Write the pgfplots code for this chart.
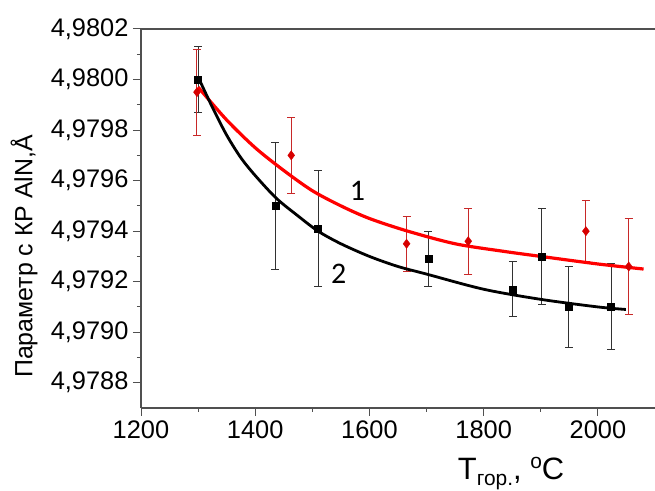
\documentclass[border=0pt]{standalone}
\usepackage{pgfplots}
\pgfplotsset{compat=1.18}
\usepackage{fontspec}
\setmainfont{Liberation Sans}
\newfontfamily\calibri{Carlito}
\definecolor{axgray}{RGB}{80,80,80}
\definecolor{ebred}{RGB}{200,40,40}
\definecolor{ebblack}{RGB}{50,50,50}
\definecolor{ptred}{RGB}{215,0,0}
\begin{document}
\begin{tikzpicture}
\begin{axis}[
  scale only axis,
  width=514bp, height=379bp,
  xmin=1200, xmax=2100,
  ymin=4.9787, ymax=4.9802,
  axis y line*=left,
  xtick pos=bottom, ytick pos=left,
  xtick={1200,1400,1600,1800,2000},
  ytick={4.9788,4.9790,4.9792,4.9794,4.9796,4.9798,4.9800,4.9802},
  yticklabels={{4,9788},{4,9790},{4,9792},{4,9794},{4,9796},{4,9798},{4,9800},{4,9802}},
  minor x tick num=1, minor y tick num=1,
  tick align=outside,
  major tick length=8bp, minor tick length=4bp,
  every tick/.style={line width=1bp, color=axgray},
  axis line style={line width=1.2bp, color=axgray},
  /pgf/number format/assume math mode=true,
  /pgf/number format/1000 sep={},
  tick label style={font=\fontsize{25.5}{29}\selectfont},
  xticklabel style={yshift=-1bp},
  yticklabel style={xshift=-1bp},
  ylabel={Параметр с КР AlN,Å},
  ylabel style={at={(rel axis cs:0,0.40)}, anchor=center, yshift=117bp, font=\fontsize{25}{29}\selectfont},
  xlabel={T\raisebox{-6bp}{\fontsize{21}{23}\selectfont гор.}, \raisebox{11bp}{\fontsize{21}{23}\selectfont o}C},
  xlabel style={at={(rel axis cs:0.72,0)}, anchor=base, yshift=-71bp, font=\fontsize{31}{35}\selectfont},
  clip=false,
]
\coordinate (bl) at (rel axis cs:0,0);
\coordinate (tr) at (rel axis cs:1,1);
% series 2 (black squares)
\addplot[only marks, mark=square*, mark size=3.5bp, color=black,
  error bars/.cd, y dir=both, y explicit,
  error bar style={line width=1bp, color=ebblack},
  error mark options={rotate=90, mark size=4bp, line width=1bp, color=ebblack}]
coordinates {
  (1300,4.98000) +- (0,0.00013)
  (1435,4.97950) +- (0,0.00025)
  (1510,4.97941) +- (0,0.00023)
  (1703,4.97929) +- (0,0.00011)
  (1851,4.97917) +- (0,0.00011)
  (1902,4.97930) +- (0,0.00019)
  (1949,4.97910) +- (0,0.00016)
  (2023,4.97910) +- (0,0.00017)
};
% series 1 (red diamonds)
\addplot[only marks, mark=diamond*, mark size=4.6bp, color=ptred,
  error bars/.cd, y dir=both, y explicit,
  error bar style={line width=1bp, color=ebred},
  error mark options={rotate=90, mark size=4bp, line width=1bp, color=ebred}]
coordinates {
  (1298,4.97995) +- (0,0.00017)
  (1463,4.97970) +- (0,0.00015)
  (1665,4.97935) +- (0,0.00011)
  (1773,4.97936) +- (0,0.00013)
  (1979,4.97940) +- (0,0.00012)
  (2054,4.97926) +- (0,0.00019)
};
% fit curve 1 (red)
\addplot[smooth, no marks, color=red, line width=3.2bp] coordinates {
  (1300,4.97997) (1350,4.97984) (1400,4.97973) (1450,4.97964) (1500,4.97956)
  (1550,4.97950) (1600,4.97945) (1667,4.97940) (1750,4.97935) (1835,4.97932)
  (1900,4.97930) (2000,4.97927) (2080,4.97925)
};
% fit curve 2 (black)
\addplot[smooth, no marks, color=black, line width=2.8bp] coordinates {
  (1300,4.98001) (1325,4.97989) (1350,4.97978) (1375,4.97969) (1400,4.97962)
  (1437,4.97953) (1475,4.97946) (1510,4.97940) (1550,4.97935) (1600,4.97930)
  (1650,4.97926) (1700,4.97923) (1800,4.97917) (1900,4.97913) (2000,4.97910) (2049,4.97909)
};
\node[font=\calibri\fontsize{30}{33}\selectfont] at (axis cs:1579,4.97956) {1};
\node[font=\calibri\fontsize{30}{33}\selectfont] at (axis cs:1546,4.97923) {2};
\end{axis}
\pgfresetboundingbox
\path (bl) ++(-141bp,-82bp) coordinate (a);
\path (tr) ++(0bp,29bp) coordinate (b);
\useasboundingbox (a) rectangle (b);
\end{tikzpicture}
\end{document}
